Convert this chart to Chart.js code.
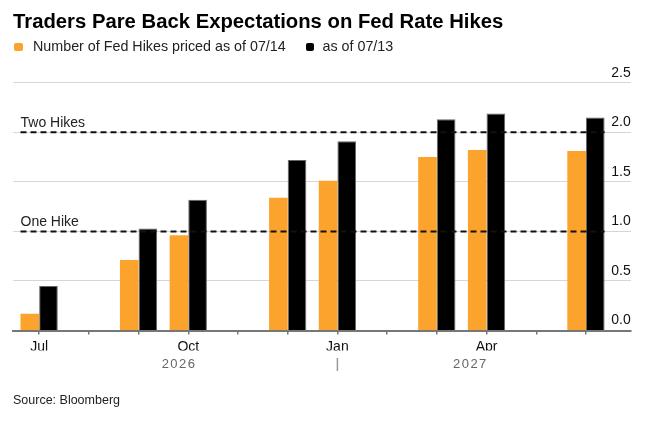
<!DOCTYPE html>
<html>
<head>
<meta charset="utf-8">
<script src="https://cdn.jsdelivr.net/npm/chart.js@4.4.1/dist/chart.umd.min.js"></script>
<style>
  html, body { margin: 0; padding: 0; background: #fff; }
  body { width: 657px; height: 424px; position: relative; overflow: hidden; font-family: "Liberation Sans", Arial, sans-serif; }
  #wrap { position: absolute; left: 0; top: 0; width: 657px; height: 424px; }
  .title { position: absolute; left: 13px; top: 11px; font-size: 20.3px; line-height: 20px; font-weight: bold; color: #000; white-space: nowrap; }
  .leg { position: absolute; top: 38px; font-size: 14.3px; line-height: 16px; color: #222; white-space: nowrap; }
  .mk { position: absolute; top: 42.5px; width: 8.5px; height: 8.5px; border-radius: 2px; }
  .source { position: absolute; left: 13px; top: 392px; font-size: 12.5px; line-height: 16px; color: #222; white-space: nowrap; }
</style>
</head>
<body>
<div id="wrap"><canvas id="c"></canvas></div>
<div class="title">Traders Pare Back Expectations on Fed Rate Hikes</div>
<div class="mk" style="left:14px;background:#FCA32D"></div>
<div class="leg" style="left:33px">Number of Fed Hikes priced as of 07/14</div>
<div class="mk" style="left:305.5px;background:#000"></div>
<div class="leg" style="left:322.5px">as of 07/13</div>
<div class="source">Source: Bloomberg</div>
<script>
// ---- data ----
const monthLabels = ['Jul','Aug','Sep','Oct','Nov','Dec','Jan','Feb','Mar','Apr','May','Jun'];
const meetingMonths = ['Jul','Sep','Oct','Dec','Jan','Mar','Apr','Jun'];
const hikes0714 = [0.17, 0.71, 0.96, 1.34, 1.51, 1.75, 1.82, 1.81];
const hikes0713 = [0.45, 1.03, 1.32, 1.72, 1.91, 2.13, 2.19, 2.15];
const shownMonthLabels = ['Jul','Oct','Jan','Apr'];
const yearLabels = ['2026','2027'];
const refValues = [1, 2];
const refLabels = ['One Hike','Two Hikes'];

const ORANGE = '#FCA32D';
const BLACK = '#000000';

function toPoints(vals) {
  return meetingMonths.map((m, i) => ({ x: monthLabels.indexOf(m), y: vals[i] }));
}

const refLinePlugin = {
  id: 'refLines',
  afterDatasetsDraw(chart) {
    const ctx = chart.ctx;
    const y = chart.scales.y;
    const m0 = chart.getDatasetMeta(0).data;
    const m1 = chart.getDatasetMeta(1).data;
    const first = m0[0], last = m1[m1.length - 1];
    const x0 = first.x - first.width / 2;
    const x1 = last.x + last.width / 2;
    ctx.save();
    refValues.forEach((v, i) => {
      const py = y.getPixelForValue(v);
      ctx.beginPath();
      ctx.setLineDash([6, 4]);
      ctx.lineWidth = 2;
      ctx.strokeStyle = '#111';
      ctx.moveTo(x0, py);
      ctx.lineTo(x1, py);
      ctx.stroke();
      ctx.setLineDash([]);
      ctx.fillStyle = '#222';
      ctx.font = '14px "Liberation Sans", Arial, sans-serif';
      ctx.textAlign = 'left';
      ctx.textBaseline = 'alphabetic';
      ctx.fillText(refLabels[i], x0, py - 5);
    });
    ctx.restore();
  }
};

const yearPlugin = {
  id: 'years',
  afterDraw(chart) {
    const ctx = chart.ctx;
    const x = chart.scales.x;
    const yearCenters = [2.8, 8.66];
    const sepValue = monthLabels.indexOf('Jan');
    ctx.save();
    ctx.fillStyle = '#666';
    ctx.font = '13px "Liberation Sans", Arial, sans-serif';
    ctx.textAlign = 'center';
    ctx.textBaseline = 'middle';
    try { ctx.letterSpacing = '1.5px'; } catch (e) {}
    yearLabels.forEach((t, i) => {
      ctx.fillText(t, x.getPixelForValue(yearCenters[i]) + 0.75, 364);
    });
    ctx.beginPath();
    ctx.strokeStyle = '#999';
    ctx.lineWidth = 1.5;
    const sx = x.getPixelForValue(sepValue);
    ctx.moveTo(sx, 358);
    ctx.lineTo(sx, 371);
    ctx.stroke();
    ctx.restore();
  }
};

new Chart(document.getElementById('c'), {
  type: 'bar',
  data: {
    datasets: [
      { label: 'Number of Fed Hikes priced as of 07/14', data: toPoints(hikes0714), backgroundColor: ORANGE, borderWidth: 0 },
      { label: 'as of 07/13', data: toPoints(hikes0713), backgroundColor: BLACK, borderColor: '#666', borderWidth: 1 }
    ]
  },
  options: {
    responsive: true,
    maintainAspectRatio: false,
    animation: false,
    devicePixelRatio: 1,
    categoryPercentage: 0.75,
    barPercentage: 1.0,
    layout: { padding: { left: 13.3, right: 26.3, top: 82.7, bottom: 73.5 } },
    plugins: { legend: { display: false }, tooltip: { enabled: false }, title: { display: false } },
    scales: {
      x: {
        type: 'linear',
        min: -0.52,
        max: 11.9,
        offset: false,
        z: 1,
        afterBuildTicks(s) { s.ticks = monthLabels.map((_, i) => ({ value: i })); },
        afterFit(s) { s.height = 20; },
        grid: { offset: false, drawOnChartArea: false, drawTicks: true, tickLength: 4, color: '#777', lineWidth: 1.5 },
        border: { display: true, color: '#777', width: 2 },
        ticks: {
          autoSkip: false, maxRotation: 0, padding: 4,
          color: '#111',
          font: { size: 14, family: '"Liberation Sans", Arial, sans-serif' },
          callback(v) { const l = monthLabels[v]; return shownMonthLabels.includes(l) ? l : ''; }
        }
      },
      y: {
        position: 'right',
        min: 0,
        max: 2.5,
        afterFit(s) { s.width = 0; },
        grid: { color: '#d6d6d6', lineWidth: 1, drawTicks: false },
        border: { display: false },
        ticks: {
          stepSize: 0.5, mirror: true, padding: 0, labelOffset: -10,
          color: '#111',
          font: { size: 14, family: '"Liberation Sans", Arial, sans-serif' },
          callback(v) { return v.toFixed(1); }
        }
      }
    }
  },
  plugins: [refLinePlugin, yearPlugin]
});
</script>
</body>
</html>
